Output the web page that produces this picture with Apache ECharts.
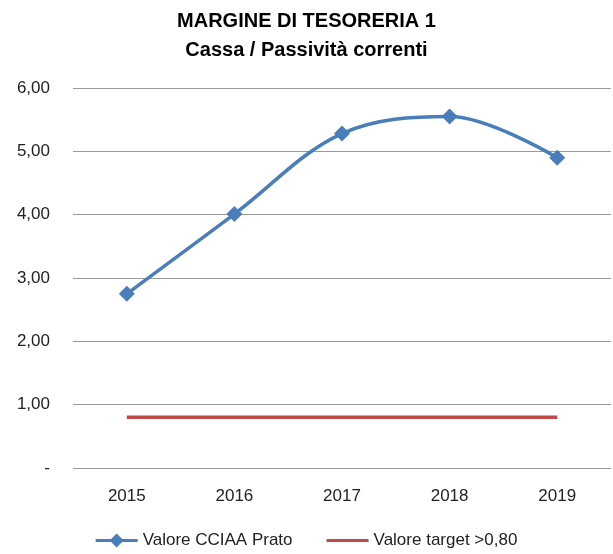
<!DOCTYPE html>
<html lang="it">
<head>
    <meta charset="UTF-8">
    <title>Margine di tesoreria 1</title>
    <script src="https://cdn.jsdelivr.net/npm/echarts@6/dist/echarts.min.js"></script>
    <style>
        html, body { margin: 0; padding: 0; background: #fff; }
        #chart { width: 613px; height: 554px; }
    </style>
</head>
<body>
<div id="chart"></div>
<script type="text/javascript">
    var anni = ['2015', '2016', '2017', '2018', '2019'];
    var valoreCciaa = [2.75, 4.01, 5.28, 5.55, 4.90];
    var valoreTarget = [0.80, 0.80, 0.80, 0.80, 0.80];
    var yTicks = [0, 1, 2, 3, 4, 5, 6];

    var font = 'Liberation Sans';
    var chart = echarts.init(document.getElementById('chart'));

    chart.setOption({
        animation: false,
        title: {
            text: 'MARGINE DI TESORERIA 1\nCassa / Passività correnti',
            left: 'center',
            top: 2,
            textStyle: {
                fontFamily: font, fontSize: 20, fontWeight: 'bold',
                color: '#000', lineHeight: 29
            }
        },
        legend: {
            bottom: 0,
            left: 'center',
            itemGap: 34,
            itemWidth: 42,
            itemHeight: 14,
            textStyle: { fontFamily: font, fontSize: 17, color: '#222' },
            data: [
                { name: 'Valore CCIAA Prato',
                  icon: 'path://M0,5.5 L42,5.5 L42,8.5 L0,8.5 Z M21,0 L28,7 L21,14 L14,7 Z' },
                { name: 'Valore target >0,80',
                  icon: 'path://M0,0 L0.01,0 L0,0.01 Z M0,14 L0.01,14 L0,13.99 Z M0,5.5 L42,5.5 L42,8.5 L0,8.5 Z' }
            ]
        },
        grid: { left: 73, right: 2, top: 88, bottom: 86 },
        xAxis: {
            type: 'category',
            data: anni,
            axisLine: { show: false },
            axisTick: { show: false },
            axisLabel: { fontFamily: font, fontSize: 17, color: '#222', margin: 20 }
        },
        yAxis: {
            type: 'value',
            min: yTicks[0],
            max: yTicks[yTicks.length - 1],
            interval: 1,
            axisLine: { show: false },
            axisTick: { show: false },
            splitLine: { lineStyle: { color: '#999', width: 1 } },
            axisLabel: {
                fontFamily: font, fontSize: 17, color: '#222', margin: 23,
                formatter: function (v) {
                    return v === 0 ? '-' : v.toFixed(2).replace('.', ',');
                }
            }
        },
        series: [
            {
                name: 'Valore CCIAA Prato',
                type: 'line',
                data: valoreCciaa,
                smooth: 0.35,
                symbol: 'diamond',
                symbolSize: 16,
                color: '#4a7ebb',
                lineStyle: { width: 3.5, color: '#4a7ebb' },
                itemStyle: { color: '#4a7ebb' }
            },
            {
                name: 'Valore target >0,80',
                type: 'line',
                data: valoreTarget,
                symbol: 'none',
                color: '#be4b48',
                lineStyle: { width: 3.5, color: '#be4b48' }
            }
        ]
    });
</script>
</body>
</html>
